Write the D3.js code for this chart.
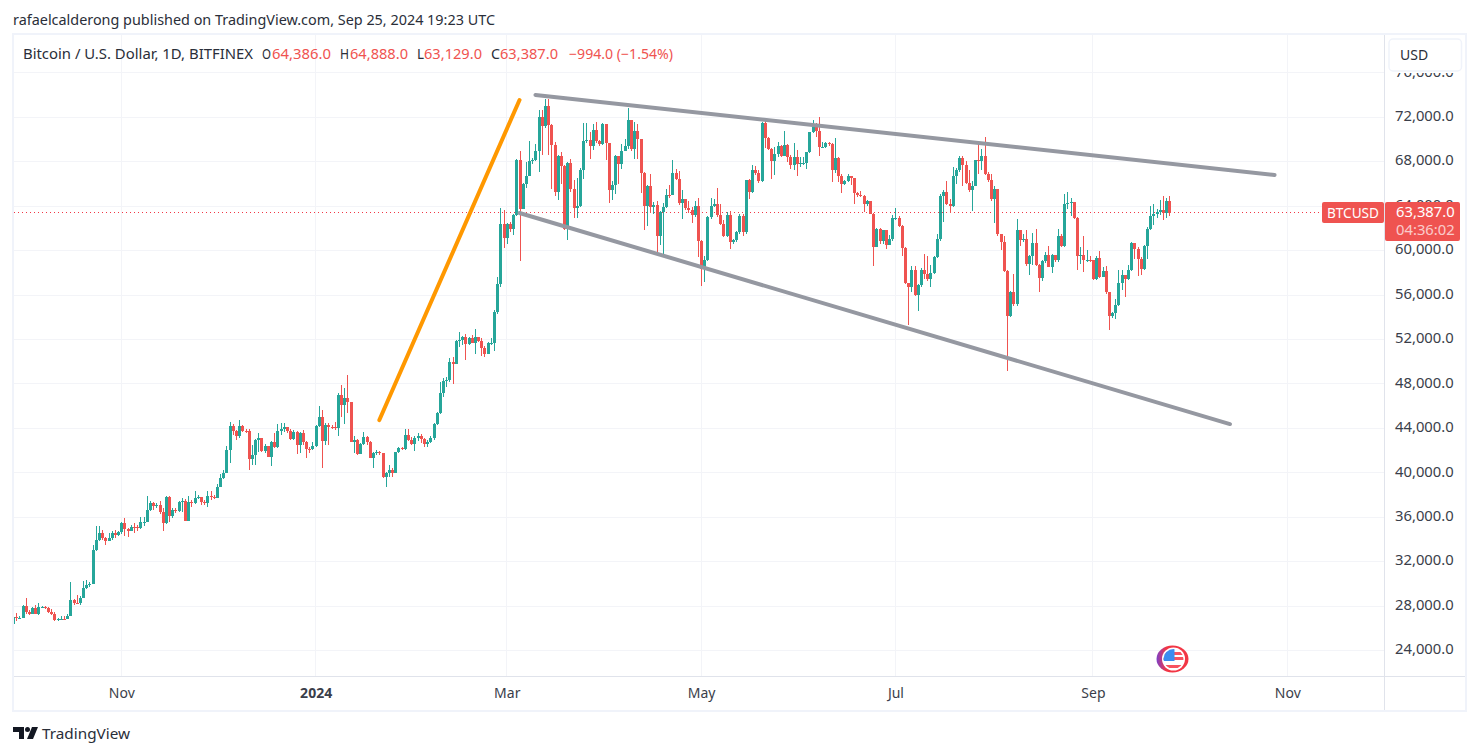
<!DOCTYPE html>
<html>
<head>
<meta charset="utf-8">
<title>BTCUSD</title>
<script src="https://cdn.jsdelivr.net/npm/d3@7"></script>
<style>
  html, body { margin: 0; padding: 0; background: #fff; }
  svg { display: block; }
  text { font-family: "Noto Sans", sans-serif; }
</style>
</head>
<body>
<div id="chart"></div>
<script>
// daily candles start here, one per day, open = previous close
const firstDate = "2023-09-28";
const firstOpen = 26350;

const closes = [
  27060,26910,26960,28050,27510,27300,27870,27330,27960,27960,
  27870,27510,27330,26790,26820,26880,26820,27150,28560,28320,
  28290,28770,29670,29910,30000,33090,33960,34560,34110,33900,
  34140,34560,34440,34710,35460,34920,34740,35160,35100,35010,
  35550,35610,36690,37320,37050,37140,36450,35460,37860,36090,
  36690,36600,37410,37500,35700,37410,37320,37710,37800,37410,
  37260,37890,37860,37740,38720,39560,40010,42050,44210,43790,
  43340,44210,43760,43730,41270,41570,42950,43130,41960,42410,
  41420,42800,42320,43760,43910,44090,43760,43040,43670,42530,
  43610,42800,42140,42110,42380,44240,45050,42890,44300,44150,
  44090,44000,47000,46100,46700,46370,42800,42950,41690,42590,
  43250,42770,41360,41750,41840,41750,39620,39980,40250,40010,
  41840,42230,42170,43400,42950,42590,43100,43310,43010,42590,
  42770,43100,44390,45410,47150,48280,48350,49990,49780,51850,
  51940,52210,51580,52150,51700,52210,51880,51280,50680,51700,
  51730,54460,57040,62380,61150,62380,61960,63190,68170,63790,
  66040,66760,68050,68200,68950,72010,71200,73000,71350,69490,
  65290,68500,67660,61990,67930,65590,63850,64030,67300,69850,
  70000,69400,70840,69880,69580,71440,69730,65440,65950,68500,
  67780,68950,69430,71740,69130,70780,70060,67000,64030,65800,
  63940,64090,61300,63460,63910,65050,64990,66970,66490,64300,
  64660,63850,63640,63190,64000,60840,58350,59190,63000,64000,
  64180,63190,62380,61290,63250,60750,60930,61650,63100,61650,
  66340,65260,67240,66970,66250,71510,70160,69140,68060,68690,
  69410,68540,69500,68450,67700,68450,67760,67850,67900,68840,
  70670,71150,70790,69350,69350,69710,69560,67240,68350,66700,
  66040,66250,66700,66580,65200,64990,64900,64240,64450,63340,
  60330,61920,60870,61890,60480,61080,62910,62970,62220,60240,
  57090,56730,58290,56010,56880,58230,57870,57450,58020,59400,
  61020,64900,65260,64170,63990,66760,67240,68320,67690,66100,
  65440,65860,68140,68050,68500,66940,66340,64680,65550,61500,
  60780,58170,54080,56250,55170,61830,60930,61050,58770,59490,
  60660,58680,57510,59040,59580,58530,59580,59130,61290,60390,
  64170,64290,64350,62940,59490,59580,59160,59190,59150,57420,
  59310,57600,58140,56280,54080,54350,55080,57120,57780,57420,
  58290,60690,60120,59250,58350,60450,61920,63090,63270,63450,
  63690,63390,64440,63387
];

const highs = [
  27100,27360,27150,28140,28710,27660,27960,28140,28320,28020,
  28020,27960,27720,27510,26970,27120,27090,27330,30210,28650,
  29040,28950,30300,30390,30210,33540,35220,35220,34860,34260,
  34560,34800,34860,34800,35550,35970,35040,35310,35460,35310,
  36000,36000,37950,37500,37410,37290,37500,36810,37950,37950,
  36800,36810,37500,37740,37650,37950,37590,38400,37980,37860,
  37590,38400,38400,38040,39000,39890,40250,42410,44600,44390,
  43850,44750,44300,43970,43910,42500,43050,43550,43100,42590,
  42410,42890,43550,44390,44450,44510,44150,43910,43850,43790,
  43700,43850,42860,42350,42800,44300,46010,45650,44450,44510,
  44300,44600,47210,47900,47660,48800,46400,43310,43010,42650,
  43700,43310,42860,41900,42050,41990,41810,40100,40700,40400,
  41900,42290,42290,43910,43910,43250,43340,43550,43490,43100,
  43000,43350,44500,45500,48200,48550,48600,50350,50440,51950,
  52720,52300,52540,52250,52390,52930,52250,52150,51400,51800,
  52100,54700,57640,63880,63640,62500,62590,63300,68250,68950,
  66100,68000,69850,68350,69640,72640,72640,73630,73690,71440,
  69790,68600,68890,67690,68000,68290,66340,66550,67400,71500,
  71500,70690,71440,71590,70000,71500,71350,69730,66280,68600,
  68500,69640,70090,72820,71800,71590,71440,70090,67090,65950,
  66940,64390,64480,63600,64300,65530,65890,68200,67330,67180,
  65500,64660,64480,63940,64500,64780,60990,59500,63150,64780,
  64690,65680,64240,62740,63500,63580,61050,61800,63340,63300,
  66400,66490,67690,67650,67240,71600,71900,70250,69260,69350,
  69800,69500,70760,69590,68600,69650,69050,68450,68400,68900,
  70700,71750,71510,72000,69800,69800,69800,69700,70160,68450,
  66880,66400,66940,66700,66580,65260,65380,65050,64600,64500,
  63400,62000,62000,61900,61900,61380,63180,63870,63090,62280,
  60330,57100,58590,58590,57000,58400,59670,59490,58680,59500,
  61530,65070,65440,66250,64680,67540,67480,68530,68560,68080,
  67300,66300,68200,69640,69190,70240,67090,66940,65800,65550,
  61500,61290,58230,56400,57870,62820,61890,61470,61890,59600,
  61620,61920,58830,59150,59880,60390,59700,59600,61980,61530,
  65070,65300,64740,64400,63000,60330,61290,60090,59500,59200,
  59500,59970,58530,58650,56300,54500,55680,58230,58300,57800,
  58680,60800,60690,60330,59430,60500,62100,64000,64230,63780,
  64530,64890,64770,64888
];

const lows = [
  26340,26700,26880,26940,27300,27210,27300,27290,27240,27870,
  27780,27360,27240,26640,26640,26760,26760,26820,27150,28110,
  28200,28140,28710,29520,29700,29970,32940,33900,33960,33480,
  33900,33960,34110,34350,34500,34350,34260,34740,34590,34800,
  34950,35250,35550,36600,36690,36810,36300,34800,35400,35550,
  35910,36390,36450,36450,35700,35700,36900,37200,37620,37140,
  37100,36900,37590,37650,37700,38690,39440,40010,40910,43400,
  42950,43130,43700,43550,40250,40700,40700,41900,41900,41750,
  41390,40610,42250,42200,43400,43700,43610,43000,42950,41690,
  41750,42500,41300,41750,42050,42290,44090,40460,42500,42500,
  43910,43900,43310,45050,44360,45350,42800,41750,41630,41690,
  42500,42500,41300,40460,41570,41630,39500,38690,39650,39650,
  39950,41750,42100,42050,42890,42500,41990,42900,42650,42290,
  42300,42650,43000,44300,45300,46800,47700,48200,48000,49780,
  51340,51490,50200,51550,51650,50680,51800,50500,50440,50680,
  51500,50950,54300,56740,60250,60640,61700,61390,63100,59080,
  63730,65650,66700,67840,68050,67090,68590,71080,68590,65590,
  64900,64540,66000,61840,60940,65300,62980,62900,63900,66490,
  69700,68290,69040,69700,69400,69500,68140,64300,64600,65140,
  66040,67390,69000,69190,69000,68290,68290,65200,61840,62200,
  63400,63340,59800,60490,59740,63880,64700,64990,66340,64100,
  62890,63700,63400,62490,63040,59430,56810,57170,59070,62890,
  63940,63040,62300,61200,61230,60180,60630,60780,61500,61290,
  61530,64690,65200,66800,66100,66190,69260,69050,66430,66790,
  68450,68400,68540,68000,67390,67240,66700,67500,67700,67390,
  68750,70550,70250,68540,69200,69260,69400,66190,67000,66190,
  65200,65890,66200,65890,64180,64800,64800,63490,64000,63300,
  58620,60300,60600,60600,60180,60480,60840,62800,62100,59490,
  56970,53270,56280,55900,54530,56730,57450,57300,56730,57900,
  59300,60870,62580,64100,63390,63950,66030,67100,65800,66000,
  65300,63570,65800,66880,67240,66800,66200,64500,62490,61290,
  60030,58100,49160,54000,55000,55000,60390,60800,58590,57780,
  58680,58600,56280,57270,58890,58530,57990,59000,59000,60300,
  60300,63780,63090,62850,58230,58800,58080,59000,59000,57350,
  57390,57500,57600,56070,52820,53900,53810,54980,56490,55830,
  57400,58200,59280,57720,57780,58300,59280,61900,62280,62970,
  63180,62790,62940,63129
];

const priceTicks = [24000,28000,32000,36000,40000,44000,48000,52000,56000,60000,64000,68000,72000,76000];
const timeTicks = ["2023-11-01","2024-01-01","2024-03-01","2024-05-01","2024-07-01","2024-09-01","2024-11-01"];
const timeLabels = ["Nov","2024","Mar","May","Jul","Sep","Nov"];

// drawn trend lines: [date, price]
const orangeLine = [["2024-01-21",44750],["2024-03-05",73560]];
const upperLine = [["2024-03-10",74010],["2024-10-28",66810]];
const lowerLine = [["2024-03-05",63390],["2024-10-14",44390]];

const lastPrice = 63387;

const upColor = "#26a69a";
const downColor = "#ef5350";

const width = 1479, height = 755;
const plot = { left: 14, right: 1384, top: 35, bottom: 676 };

const parseDay = d3.utcParse("%Y-%m-%d");
const start = parseDay(firstDate);

const candles = closes.map((c, i) => ({
  date: d3.utcDay.offset(start, i),
  open: i === 0 ? firstOpen : closes[i - 1],
  high: highs[i],
  low: lows[i],
  close: c
}));

const x = d3.scaleUtc()
  .domain([parseDay("2023-11-01"), parseDay("2024-11-01")])
  .range([121.3, 1287.3]);

const y = d3.scaleLinear()
  .domain([24000, 72000])
  .range([650.6, 117.3]);

const svg = d3.select("#chart").append("svg")
  .attr("width", width)
  .attr("height", height);

svg.append("defs").append("clipPath").attr("id", "plot-clip")
  .append("rect")
  .attr("x", plot.left).attr("y", plot.top)
  .attr("width", plot.right - plot.left)
  .attr("height", plot.bottom - plot.top);

// header line
svg.append("text")
  .attr("x", 13).attr("y", 25)
  .attr("textLength", 482).attr("lengthAdjust", "spacingAndGlyphs")
  .style("font-size", "14px").style("fill", "#2a2e39")
  .text("rafaelcalderong published on TradingView.com, Sep 25, 2024 19:23 UTC");

// outer frame
svg.append("rect")
  .attr("x", 13).attr("y", 34)
  .attr("width", 1453).attr("height", 677)
  .attr("fill", "#fff").attr("stroke", "#f0f3fa").attr("stroke-width", 2);

// grid
const grid = svg.append("g").attr("stroke", "#f3f4f8").attr("stroke-width", 1).attr("shape-rendering", "crispEdges");
grid.selectAll("line.h").data(priceTicks).enter().append("line")
  .attr("class", "h")
  .attr("x1", plot.left).attr("x2", plot.right)
  .attr("y1", d => y(d)).attr("y2", d => y(d));
grid.selectAll("line.v").data(timeTicks).enter().append("line")
  .attr("class", "v")
  .attr("x1", d => x(parseDay(d))).attr("x2", d => x(parseDay(d)))
  .attr("y1", plot.top).attr("y2", plot.bottom);

// axes
const priceAxis = svg.append("g")
  .attr("transform", "translate(1395,-1.5)")
  .call(d3.axisRight(y).tickValues(priceTicks).tickSize(0).tickPadding(0).tickFormat(d3.format(",.1f")));
priceAxis.select(".domain").remove();
priceAxis.selectAll("text")
  .style("font-family", '"Noto Sans", sans-serif')
  .style("font-size", "14.8px").style("fill", "#3a3e4a");

const timeAxis = svg.append("g")
  .attr("transform", "translate(0,688)")
  .call(d3.axisBottom(x)
    .tickValues(timeTicks.map(parseDay))
    .tickSize(0).tickPadding(0)
    .tickFormat((d, i) => timeLabels[i]));
timeAxis.select(".domain").remove();
timeAxis.selectAll("text")
  .style("font-family", '"Noto Sans", sans-serif')
  .style("font-size", "14px").style("fill", "#3a3e4a")
  .style("font-weight", (d, i) => timeLabels[i] === "2024" ? "700" : "400");

// separators
svg.append("line").attr("x1", 1384.5).attr("x2", 1384.5).attr("y1", 35).attr("y2", 710)
  .attr("stroke", "#e0e3eb");
svg.append("line").attr("x1", 14).attr("x2", 1465).attr("y1", 676.5).attr("y2", 676.5)
  .attr("stroke", "#e0e3eb");

// candles
const chart = svg.append("g").attr("clip-path", "url(#plot-clip)");

// last price line
chart.append("line")
  .attr("x1", plot.left).attr("x2", 1322)
  .attr("y1", Math.round(y(lastPrice)) - 0.5).attr("y2", Math.round(y(lastPrice)) - 0.5)
  .attr("stroke", "#f23645").attr("stroke-width", 1).attr("stroke-dasharray", "1 3")
  .attr("shape-rendering", "crispEdges");

const candleG = chart.append("g").attr("shape-rendering", "crispEdges");
candleG.selectAll("rect.wick").data(candles).enter().append("rect")
  .attr("class", "wick")
  .attr("x", d => Math.round(x(d.date)))
  .attr("width", 1)
  .attr("y", d => y(d.high))
  .attr("height", d => y(d.low) - y(d.high))
  .attr("fill", d => d.close >= d.open ? upColor : downColor);
candleG.selectAll("rect.body").data(candles).enter().append("rect")
  .attr("class", "body")
  .attr("x", d => Math.round(x(d.date)) - 1)
  .attr("width", 3)
  .attr("y", d => y(Math.max(d.open, d.close)))
  .attr("height", d => Math.max(1, Math.abs(y(d.open) - y(d.close))))
  .attr("fill", d => d.close >= d.open ? upColor : downColor);

// trend lines
const trend = d3.line()
  .x(d => x(parseDay(d[0])))
  .y(d => y(d[1]));
[[orangeLine, "#ff9800"], [upperLine, "#9598a1"], [lowerLine, "#9598a1"]].forEach(([pts, col]) => {
  chart.append("path")
    .attr("d", trend(pts))
    .attr("fill", "none")
    .attr("stroke", col)
    .attr("stroke-width", 4)
    .attr("stroke-linecap", "round");
});

// legend
const legendItems = [
  ["Bitcoin / U.S. Dollar, 1D, BITFINEX", 23, 230, "#2a2e39"],
  ["O", 262, 9, "#2a2e39"],
  ["64,386.0", 272, 59, downColor],
  ["H", 340, 9, "#2a2e39"],
  ["64,888.0", 350, 58, downColor],
  ["L", 417, 7, "#2a2e39"],
  ["63,129.0", 424, 58, downColor],
  ["C", 491, 9, "#2a2e39"],
  ["63,387.0", 500, 58, downColor],
  ["\u2212994.0 (\u22121.54%)", 569, 104, downColor]
];
svg.append("g").selectAll("text").data(legendItems).enter().append("text")
  .attr("x", d => d[1]).attr("y", 59)
  .attr("textLength", d => d[2]).attr("lengthAdjust", "spacingAndGlyphs")
  .style("font-size", "14px")
  .style("fill", d => d[3])
  .text(d => d[0]);

// USD button, the white strip hides the top of the label behind it
svg.append("rect")
  .attr("x", 1386).attr("y", 36).attr("width", 78).attr("height", 37)
  .attr("fill", "#fff");
svg.append("rect")
  .attr("x", 1389).attr("y", 39).attr("width", 72.5).attr("height", 32).attr("rx", 4)
  .attr("fill", "#fff").attr("stroke", "#f0f3fa").attr("stroke-width", 1.5);
svg.append("text").attr("x", 1400).attr("y", 60)
  .style("font-size", "14px").style("fill", "#2a2e39").text("USD");

// last price tags
const tagY = Math.round(y(lastPrice));
svg.append("rect").attr("x", 1322).attr("y", tagY - 11).attr("width", 62).attr("height", 21).attr("rx", 2).attr("fill", downColor);
svg.append("rect").attr("x", 1385).attr("y", tagY - 11).attr("width", 75).attr("height", 39).attr("rx", 2).attr("fill", downColor);
svg.append("text").attr("x", 1327).attr("y", tagY + 5)
  .attr("textLength", 52).attr("lengthAdjust", "spacingAndGlyphs")
  .style("font-size", "14px").style("fill", "#fff").text("BTCUSD");
svg.append("text").attr("x", 1396).attr("y", tagY + 4)
  .style("font-size", "14.8px").style("fill", "#fff")
  .text(d3.format(",.1f")(lastPrice));
svg.append("text").attr("x", 1396).attr("y", tagY + 22)
  .style("font-size", "14.8px").style("fill", "#fff").style("opacity", 0.7).text("04:36:02");

// US event marker
const flag = svg.append("g").attr("transform", "translate(1172.5,659)");
const ringGrad = svg.select("defs").append("linearGradient").attr("id", "ring");
ringGrad.append("stop").attr("offset", "0%").attr("stop-color", "#7b3fc9");
ringGrad.append("stop").attr("offset", "30%").attr("stop-color", "#f23645");
flag.append("ellipse").attr("rx", 16).attr("ry", 13.5).attr("fill", "url(#ring)");
flag.append("circle").attr("cx", 1).attr("r", 11.5).attr("fill", "#fff");
flag.append("clipPath").attr("id", "flag-clip").append("circle").attr("cx", 1).attr("r", 10);
const flagInner = flag.append("g").attr("clip-path", "url(#flag-clip)");
flagInner.append("rect").attr("x", -10).attr("y", -10).attr("width", 22).attr("height", 20).attr("fill", "#fff");
[-7, -2, 6].forEach(s => flagInner.append("rect").attr("x", -10).attr("y", s).attr("width", 22).attr("height", 3).attr("fill", "#f7525f"));
flagInner.append("rect").attr("x", -10).attr("y", -10).attr("width", 12).attr("height", 12).attr("fill", "#3a8df0");

// TradingView logo
const logo = svg.append("g").attr("fill", "#131722");
logo.append("path").attr("d", "M13 727h11v12h-5v-7h-6z");
logo.append("circle").attr("cx", 27.5).attr("cy", 729.5).attr("r", 2.5);
logo.append("path").attr("d", "M32 727h6l-5 12h-6z");
svg.append("text").attr("x", 42).attr("y", 739)
  .attr("textLength", 88).attr("lengthAdjust", "spacingAndGlyphs")
  .style("font-size", "15px").style("fill", "#2a2e39").text("TradingView");
</script>
</body>
</html>
